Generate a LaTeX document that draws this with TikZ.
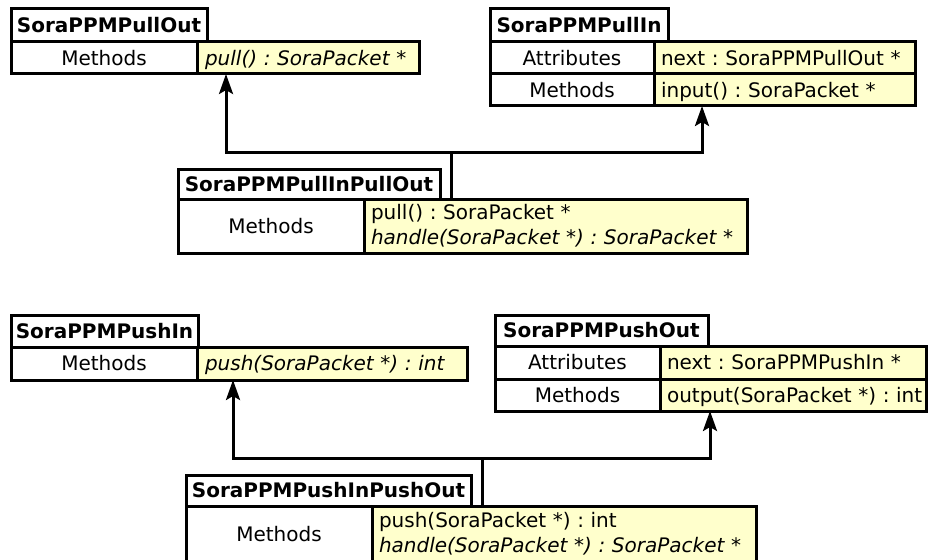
\documentclass[tikz,border=0pt]{standalone}
\usepackage{fontspec}
\setmainfont{DejaVu Sans}
\frenchspacing
\usetikzlibrary{arrows.meta,calc}
\definecolor{opfill}{RGB}{255,255,204}
\begin{document}
\begin{tikzpicture}[x=1pt,y=-1pt,
  cell/.style={draw, line width=3pt, anchor=north west, inner sep=0pt,
    outer sep=0pt, fill=white, align=center,
    font=\fontsize{20}{25}\selectfont},
  oneline/.style={text height=17pt, text depth=2.5pt},
  ttl/.style={cell, oneline, font=\fontsize{20}{25}\selectfont\bfseries},
  op/.style={cell, fill=opfill, align=left, inner xsep=7pt},
  conn/.style={line width=3pt},
  arr/.style={conn, -{Stealth[length=20pt,width=14pt,inset=4pt]}}]
\useasboundingbox (0,0) rectangle (928,559);

% SoraPPMPullOut
\node[ttl, minimum width=196pt, minimum height=33pt] (aT) at (11,9) {SoraPPMPullOut};
\node[cell, oneline, minimum width=186pt, minimum height=32pt] (aM) at (11,42) {Methods};
\node[op, oneline, minimum width=222pt, text width=206pt, inner xsep=8pt, minimum height=32pt] (aOp) at (197,42) {\itshape pull() : SoraPacket *};

% SoraPPMPullIn
\node[ttl, minimum width=178pt, minimum height=33pt] (bT) at (490,9) {SoraPPMPullIn};
\node[cell, oneline, minimum width=164pt, minimum height=32pt] (bA) at (490,42) {Attributes};
\node[op, oneline, minimum width=261pt, text width=247pt, minimum height=32pt] (bOp1) at (654,42) {next : SoraPPMPullOut *};
\node[cell, oneline, minimum width=164pt, minimum height=32pt] (bM) at (490,74) {Methods};
\node[op, oneline, minimum width=261pt, text width=247pt, minimum height=32pt] (bOp2) at (654,74) {input() : SoraPacket *};

% SoraPPMPullInPullOut
\node[ttl, minimum width=262pt, minimum height=30pt] (cT) at (178,169) {SoraPPMPullInPullOut};
\node[cell, oneline, minimum width=186pt, minimum height=54pt] (cM) at (178,199) {Methods};
\node[op, minimum width=383pt, text width=369pt, minimum height=54pt] (cOp) at (364,199)
  {pull() : SoraPacket *\\{\itshape handle(SoraPacket *) : SoraPacket *}};

% SoraPPMPushIn
\node[ttl, minimum width=187pt, minimum height=32pt] (dT) at (11,315) {SoraPPMPushIn};
\node[cell, oneline, minimum width=186pt, minimum height=33pt] (dM) at (11,347) {Methods};
\node[op, oneline, minimum width=270pt, text width=254pt, inner xsep=8pt, minimum height=33pt] (dOp) at (197,347) {\itshape push(SoraPacket *) : int};

% SoraPPMPushOut
\node[ttl, minimum width=213pt, minimum height=31pt] (eT) at (495,315) {SoraPPMPushOut};
\node[cell, oneline, minimum width=165pt, minimum height=33pt] (eA) at (495,346) {Attributes};
\node[op, oneline, minimum width=266pt, text width=252pt, minimum height=33pt] (eOp1) at (660,346) {next : SoraPPMPushIn *};
\node[cell, oneline, minimum width=165pt, minimum height=32pt] (eM) at (495,379) {Methods};
\node[op, oneline, minimum width=266pt, text width=252pt, minimum height=32pt] (eOp2) at (660,379) {\mbox{output(SoraPacket *) : int}};

% SoraPPMPushInPushOut
\node[ttl, minimum width=285pt, minimum height=31pt] (fT) at (186,475) {SoraPPMPushInPushOut};
\node[cell, oneline, minimum width=186pt, minimum height=56pt] (fM) at (186,506) {Methods};
\node[op, minimum width=384pt, text width=370pt, minimum height=56pt] (fOp) at (372,506)
  {push(SoraPacket *) : int\\{\itshape handle(SoraPacket *) : SoraPacket *}};

% inheritance connectors, pull side
\coordinate (cJ) at ($(cOp.north west)+(87,0)$);
\coordinate (pullHub) at (451,152);
\draw[arr] (cJ) -- (pullHub) -| ($(aOp.south west)+(29,0)$);
\draw[arr] (cJ) -- (pullHub) -| ($(bOp2.south west)+(48,0)$);

% inheritance connectors, push side
\coordinate (fJ) at ($(fOp.north west)+(110,0)$);
\coordinate (pushHub) at (482,458);
\draw[arr] (fJ) -- (pushHub) -| ($(dOp.south west)+(36,0)$);
\draw[arr] (fJ) -- (pushHub) -| ($(eOp2.south west)+(50,0)$);
\end{tikzpicture}
\end{document}
